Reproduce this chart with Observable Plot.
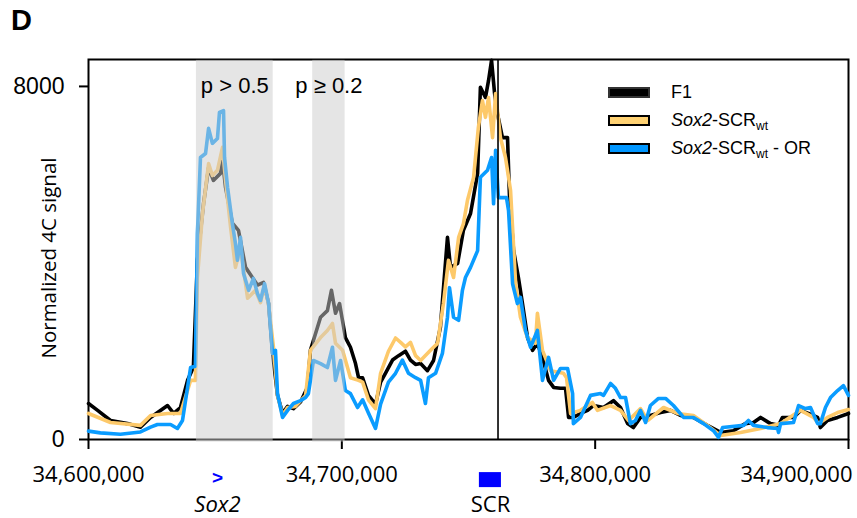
<!DOCTYPE html>
<html>
<head>
<meta charset="utf-8">
<script src="https://cdn.jsdelivr.net/npm/d3@7"></script>
<script src="https://cdn.jsdelivr.net/npm/@observablehq/plot@0.6"></script>
<style>
  body { margin: 0; background: white; }
  #wrap { position: relative; width: 857px; height: 518px; font-family: "Liberation Sans", Arial, sans-serif; }
  #title { position: absolute; left: 11px; top: 4px; font-weight: bold; font-size: 29px; }
  #ylab { position: absolute; left: 48px; top: 258px; transform: translate(-50%, -50%) rotate(-90deg); white-space: nowrap; font-family: "Open Sans", "Noto Sans", sans-serif; font-size: 20.5px; }
  .legend { position: absolute; left: 608px; top: 78px; font-size: 18px; }
  .row { display: flex; align-items: center; height: 28px; }
  .sw { width: 42px; height: 11px; box-sizing: border-box; border: 2px solid #000; margin-right: 21px; }
  .row sub { font-size: 12px; vertical-align: -4px; line-height: 0; }
</style>
</head>
<body>
<div id="wrap">
  <div id="chart"></div>
  <div id="title">D</div>
  <div id="ylab">Normalized 4C signal</div>
  <div class="legend" id="legend"></div>
</div>
<script>
// ---- data (genomic position, normalized 4C signal) ----
const f1Pos = [34600000,34603600,34608700,34615400,34620500,34624500,34631200,34633600,34636300,34639100,34641400,34643000,34645400,34647400,34649300,34652100,34652900,34654100,34656800,34659200,34662000,34664700,34666700,34669100,34671100,34672600,34674600,34676600,34678600,34680900,34683700,34686400,34687600,34691600,34694300,34695900,34697500,34699100,34701400,34703400,34705400,34706600,34708200,34710500,34713300,34715300,34717200,34720000,34722400,34725100,34727100,34729100,34731100,34733800,34736200,34738900,34741700,34742900,34745700,34748000,34750800,34753600,34754700,34756700,34757900,34759100,34760300,34761400,34763400,34765400,34766200,34767800,34769700,34771300,34773300,34775300,34777200,34779200,34781600,34783600,34786300,34788300,34789500,34791400,34794200,34797000,34799300,34803300,34807200,34810000,34812800,34815100,34817900,34821800,34825800,34829700,34833700,34838800,34844300,34849500,34854600,34859300,34862500,34865300,34869200,34872400,34873900,34878300,34881100,34884200,34887800,34888900,34891700,34895700,34900000];
const f1Val = [815,660,430,360,280,500,770,590,725,1340,1630,4060,5340,6160,5870,6030,6320,5710,4900,4740,3900,3670,3500,3560,3080,2000,1000,600,750,700,850,1180,2020,2770,2920,3380,2860,3080,2310,2090,1720,1400,1400,1000,800,1300,1500,1800,1900,2000,1800,1700,1720,1560,1790,2540,4580,3900,3990,4740,5120,6030,7980,7750,8130,8590,7840,7390,6840,6840,5480,4280,3670,3080,2310,2020,2180,1860,1340,1180,1160,1160,500,500,590,660,770,725,880,725,360,270,500,545,610,660,545,500,320,160,200,360,385,500,360,320,500,500,660,590,500,270,430,500,590];

const scrPos = [34600000,34608700,34620500,34624500,34631200,34636300,34640300,34642200,34643000,34645000,34647400,34648900,34650900,34652900,34654100,34656100,34658000,34660000,34662800,34665900,34667900,34669500,34671100,34673000,34674600,34676600,34678600,34681700,34685700,34687600,34691600,34694300,34696300,34697500,34700300,34703400,34706600,34708200,34710500,34713300,34715300,34718400,34721200,34723200,34725100,34727100,34729100,34731100,34735000,34737800,34740100,34742100,34744100,34746100,34748000,34749600,34752000,34753900,34755500,34756700,34757900,34759500,34760700,34762600,34764600,34766600,34768600,34770500,34773300,34776400,34777200,34779200,34782400,34787500,34788700,34790300,34794200,34798900,34800900,34806100,34810000,34813200,34817900,34820700,34827000,34832500,34838800,34844300,34849500,34857400,34865300,34873200,34881100,34886200,34888200,34891700,34895700,34900000];
const scrVal = [590,385,320,545,590,590,1340,1340,3670,5120,6250,5980,6100,6620,5870,4800,3900,4350,3200,3380,3100,3500,3050,2090,1000,550,725,750,1000,2020,2310,2470,2630,2180,2020,1400,1340,1300,900,700,1500,2000,2300,2200,2100,2200,1900,1790,2020,2180,3080,4060,3670,4580,4890,5420,5940,7070,7680,7300,7750,6840,7840,6840,6390,5640,3530,2770,2310,2180,2860,2020,1560,1500,1400,590,660,840,660,770,660,430,700,430,725,590,545,320,90,160,250,360,660,500,360,500,610,680];

const orPos = [34600000,34604700,34612600,34620500,34624500,34627200,34632400,34635100,34637100,34640300,34642200,34643000,34644200,34646200,34647400,34648900,34650900,34651700,34653300,34653700,34654900,34656800,34658000,34658800,34660000,34661200,34663200,34665100,34666700,34667900,34669500,34671100,34672600,34673800,34674600,34676600,34678600,34680900,34683700,34685700,34686800,34687600,34688800,34691600,34694300,34696300,34697500,34699500,34701400,34703400,34706200,34708200,34710500,34713300,34715300,34718400,34721200,34723900,34726300,34729100,34731100,34733000,34734200,34737000,34739700,34741700,34742500,34744100,34746100,34747600,34748800,34750800,34753600,34754700,34757500,34759100,34759900,34760700,34761800,34765000,34765800,34767400,34769300,34770500,34772500,34774500,34777200,34779200,34781600,34783600,34786300,34789100,34791100,34791400,34794200,34798200,34802100,34803300,34806100,34808000,34810000,34812000,34813900,34815900,34817900,34819900,34821800,34825000,34827800,34830900,34834900,34838800,34842800,34846700,34848700,34850300,34858600,34860500,34862500,34868000,34872000,34872400,34873200,34878300,34880300,34883000,34885000,34887800,34888900,34890900,34892900,34895700,34898000,34900000];
const orVal = [190,150,120,170,280,340,340,250,430,1630,1660,4670,6390,6480,7050,6710,6820,7410,7450,6390,5710,4890,4440,4060,4580,3760,3380,3650,3310,3150,3530,3080,1950,2020,1040,500,660,815,880,950,1040,1340,1790,1720,1630,2090,1340,1790,1110,1040,725,900,600,250,800,1300,1500,1800,1500,1400,1340,815,1400,1500,1950,2770,3440,2770,2700,3380,3670,3900,4280,5940,6100,6390,5340,6550,5480,5480,5190,3530,3080,3220,2470,2090,2470,1340,1860,1340,1610,1610,1040,360,500,1000,1040,1000,1270,1160,950,950,360,430,660,385,770,930,930,770,500,500,360,200,50,270,320,430,320,270,250,160,360,385,770,700,725,360,360,725,950,1110,1220,1000];

const seriesNames = ["F1", "Sox2-SCRwt", "Sox2-SCRwt - OR"];
const seriesColors = ["#000000", "#fdc96a", "#0a9cff"];
const swatchColors = ["#000000", "#ffd273", "#0096ff"];

const regionStart = [34642600, 34688500];
const regionEnd   = [34672900, 34701300];
const regionLabel = ["p > 0.5", "p \u2265 0.2"];

const viewpoint = [34761650];
const sox2Pos = [34650900];
const scrStart = [34754300];
const scrEnd = [34763000];
const sox2Label = ["Sox2"];
const scrLabel = ["SCR"];
const scrLabelPos = [34758700];

const xTicks = [34600000, 34700000, 34800000, 34900000];
const yTicks = [0, 8000];

// ---- build tables ----
const rows = (pos, val, name) => pos.map((p, i) => ({pos: p, signal: val[i], series: name}));
const tables = [rows(f1Pos, f1Val, seriesNames[0]), rows(scrPos, scrVal, seriesNames[1]), rows(orPos, orVal, seriesNames[2])];
const regions = regionStart.map((s, i) => ({x1: s, x2: regionEnd[i], label: regionLabel[i], mid: (s + regionEnd[i]) / 2}));

const humanist = "'Open Sans', 'Noto Sans', sans-serif";
const arial = "'Liberation Sans', Arial, sans-serif";
const fmtX = d3.format(",");

const chart = Plot.plot({
  width: 857,
  height: 518,
  marginLeft: 88,
  marginRight: 9,
  marginTop: 59,
  marginBottom: 79,
  style: {fontFamily: arial, overflow: "visible", background: "white"},
  x: {domain: [34600000, 34900000]},
  y: {domain: [0, 8610]},
  marks: [
    Plot.frame({stroke: "black", strokeWidth: 2}),
    Plot.axisX({ticks: xTicks, tickFormat: () => "", tickSize: 10, strokeWidth: 2, label: null}),
    Plot.text(xTicks.slice(0, -1), {x: d => d, y: 0, text: d => fmtX(d), dy: 35, fontSize: 22, fontFamily: humanist, fill: "black"}),
    Plot.text(xTicks.slice(-1), {x: d => d, y: 0, text: d => fmtX(d), dy: 35, dx: 4, textAnchor: "end", fontSize: 22, fontFamily: humanist, fill: "black"}),
    Plot.axisY({ticks: yTicks, tickFormat: d3.format("d"), tickSize: 9, tickPadding: 15, fontSize: 23, fontFamily: arial, strokeWidth: 2, label: null}),
    ...tables.map((t, i) => Plot.line(t, {x: "pos", y: "signal", stroke: seriesColors[i], strokeWidth: 3.6, strokeLinejoin: "round", strokeLinecap: "round"})),
    Plot.ruleX(viewpoint, {stroke: "black", strokeWidth: 1.6}),
    Plot.rect(regions, {x1: "x1", x2: "x2", y1: -60, y2: 8590, fill: "#cccccc", fillOpacity: 0.5}),
    Plot.text(regions, {x: "mid", y: 8000, text: "label", fontSize: 22, fontFamily: arial, fill: "black"}),
    Plot.text(sox2Pos, {x: d => d, y: -880, text: () => ">", fill: "#0000ff", fontSize: 19, fontWeight: "bold", fontFamily: arial}),
    Plot.rect(scrStart, {x1: d => d, x2: (d, i) => scrEnd[i], y1: -1090, y2: -750, fill: "#0000ff"}),
    Plot.text(sox2Label, {x: () => sox2Pos[0], y: -1490, text: d => d, fontSize: 22, fontFamily: humanist, fontStyle: "italic", fill: "black"}),
    Plot.text(scrLabel, {x: () => scrLabelPos[0], y: -1490, text: d => d, fontSize: 22, fontFamily: humanist, fill: "black"})
  ]
});
document.getElementById("chart").appendChild(chart);

// legend
const legend = document.getElementById("legend");
const labelsHtml = ["F1", "<i>Sox2</i>-SCR<sub>wt</sub>", "<i>Sox2</i>-SCR<sub>wt</sub> - OR"];
seriesNames.forEach((n, i) => {
  const row = document.createElement("div");
  row.className = "row";
  row.innerHTML = `<div class="sw" style="background:${swatchColors[i]};${i === 0 ? 'border-color:#333' : ''}"></div><span>${labelsHtml[i]}</span>`;
  legend.appendChild(row);
});
</script>
</body>
</html>
